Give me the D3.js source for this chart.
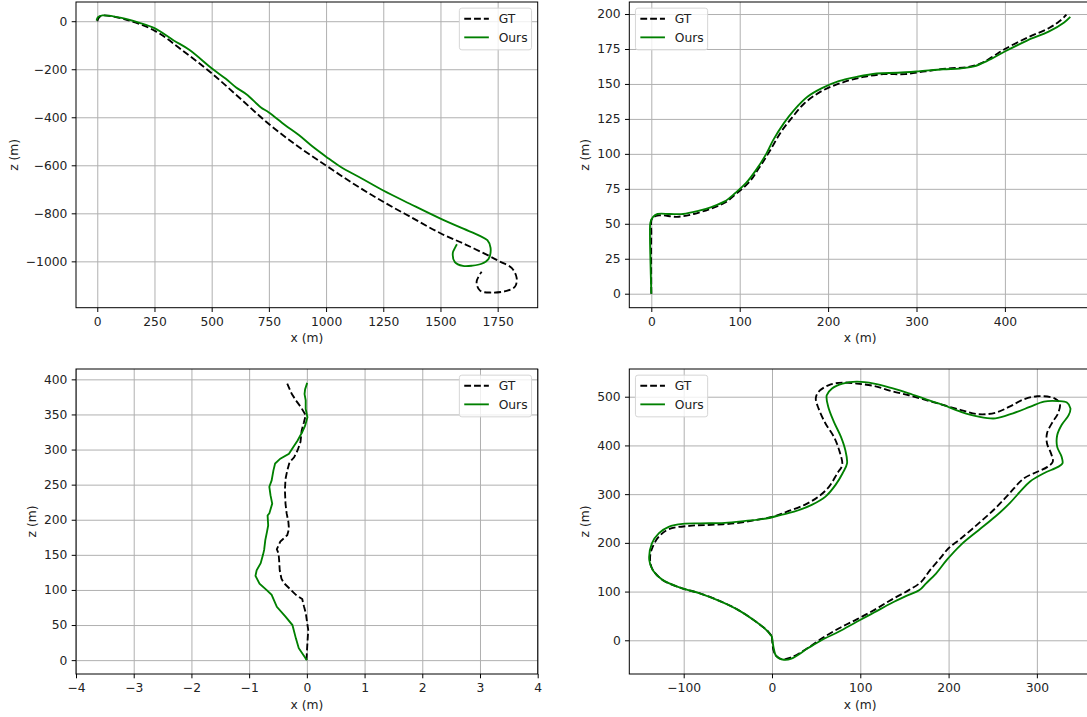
<!DOCTYPE html>
<html>
<head>
<meta charset="utf-8">
<script src="https://cdn.jsdelivr.net/npm/d3@7"></script>
<style>
body { margin: 0; background: #fff; }
text { font-family: "DejaVu Sans", sans-serif; }
</style>
</head>
<body>
<svg id="fig" width="1087" height="717"></svg>
<script>
// trajectories, [x, z] in metres
var p1Gt = [[0,0],[8,16],[23,24],[121,8],[250,-39],[370,-120],[500,-217],[625,-322],[750,-428],[875,-520],[1000,-601],[1125,-680],[1250,-752],[1375,-818],[1500,-883],[1610,-930],[1716,-979],[1760,-1001],[1812,-1028],[1833,-1069],[1826,-1105],[1789,-1123],[1724,-1130],[1673,-1122],[1658,-1085],[1680,-1043]];
var p1Ours = [[-3,3],[3,17],[23,24],[106,14],[182,-6],[250,-29],[334,-80],[402,-119],[500,-196],[562,-240],[607,-276],[653,-305],[714,-358],[750,-380],[820,-432],[881,-474],[941,-522],[1000,-564],[1063,-606],[1154,-654],[1250,-705],[1366,-760],[1500,-822],[1600,-864],[1670,-893],[1705,-912],[1719,-944],[1710,-990],[1680,-1010],[1640,-1018],[1598,-1019],[1563,-1003],[1554,-965],[1564,-943],[1572,-929]];

var p2Gt = [[0,0],[0,43],[1,54],[9,56],[29,55],[48,57],[68,61],[83,65],[97,72],[111,80],[122,90],[134,102],[146,115],[158,125],[173,136],[193,145],[216,151],[240,155],[263,157],[287,157],[310,159],[334,161],[357,162],[372,164.5],[386,169.5],[400,175],[425,183],[450,190],[462,195],[469.6,199.5]];
var p2Ours = [[0,0],[-1,24],[-1.5,43],[-1,51],[2,55],[7,57],[21,57],[36,57],[52,59],[68,62],[83,66],[95,72],[107,79],[118,88],[130,100],[138,110],[150,122],[161,131],[177,141],[193,147],[212,152],[232,155],[255,157.5],[279,158],[302,159],[330,160.5],[349,161],[365,162.5],[380,166.5],[400,173.2],[425,181],[450,187.6],[467,194],[474,198]];

var p3Gt = [[-0.006,0],[0.006,19],[0.024,43],[0.006,53],[-0.018,67],[-0.048,76],[-0.08,87],[-0.19,93],[-0.30,102],[-0.40,110],[-0.44,116],[-0.47,128],[-0.48,142],[-0.49,152],[-0.52,158],[-0.46,169],[-0.34,178],[-0.31,187],[-0.32,197],[-0.35,209],[-0.37,223],[-0.38,242],[-0.37,258],[-0.34,270],[-0.30,282],[-0.22,289],[-0.16,299],[-0.11,311],[-0.09,327],[-0.05,339],[-0.02,349],[-0.10,360],[-0.18,369],[-0.26,379],[-0.34,394]];
var p3Ours = [[0,0],[-0.066,8],[-0.14,17],[-0.19,31],[-0.25,50],[-0.37,62],[-0.52,76],[-0.61,93],[-0.70,100],[-0.82,109],[-0.89,120],[-0.87,128],[-0.80,138],[-0.76,150],[-0.74,157],[-0.72,171],[-0.69,183],[-0.67,192],[-0.68,206],[-0.65,209],[-0.60,223],[-0.63,235],[-0.65,247],[-0.61,256],[-0.58,270],[-0.55,280],[-0.46,287],[-0.31,294],[-0.24,303],[-0.16,313],[-0.08,325],[-0.03,334],[0.01,346],[-0.02,358],[-0.02,370],[-0.04,379],[-0.03,386],[0.006,395]];

var p4Gt = [[0,7.5],[1.6,-20],[4.7,-32],[11.4,-39],[21,-35.6],[37,-20],[56.6,4],[76,24.6],[96,43],[115.6,62],[135,83],[155,103],[169,120],[179,144],[190.4,168],[200,189],[214,209],[234,240],[253,271],[269,301.6],[285,332],[300.5,346],[312,356],[318,366.6],[316,383.7],[311.5,404],[311.5,425],[318,448.7],[324,466],[326,486],[320,496.6],[300.5,501],[285,494.5],[269,479.5],[253,467],[234,464],[214,472.6],[194,483],[174.6,493],[155,503],[135,511.6],[115.6,522],[96,527],[80,529],[64.5,524],[52.7,510],[49.6,496.6],[52.7,476],[60.6,445],[70,418],[76,390.6],[79.5,360],[74,343],[64.5,315],[52.7,295],[37,278],[17,264],[1.6,254],[-18,247],[-42,240],[-69,237],[-93,235],[-117,228],[-128,213],[-135,192],[-138,172],[-136,148],[-124,124],[-104,108],[-81,96],[-57,79],[-38,62],[-18,38],[-4.3,18],[0,7.5]];
var p4Ours = [[0,7.5],[1.6,-13],[4.7,-32],[13.4,-40],[22,-37.6],[41,-16],[56.6,0.7],[76,18],[96,38],[115.6,57],[135,76],[151,90],[167,103],[174.6,117],[186,137.5],[198,165],[214,196],[234,226],[253,254],[269,281],[281,305],[292,325.6],[308,343],[324,356],[329,363],[328,377],[323,397],[323,421],[328,442],[336,462],[338,476],[334,488],[324,491],[308,490],[292,479],[273,466],[253,455.5],[234,459],[214,469],[194,483],[174.6,494.5],[155,507],[135,518],[115.6,527],[96,531],[80,527],[68,517],[62,503],[63.7,479.5],[70,449],[78,418],[83,390.6],[85,363],[80,343],[72,319],[60.6,295],[45,278],[25,264],[9.4,257],[-6.3,250],[-30,245],[-53.5,241],[-81,240],[-101,239],[-117,233],[-128,220],[-136,199],[-139,165],[-135,144],[-124,124],[-104,108],[-81,96],[-57,79],[-38,62],[-18,38],[-6.3,21],[-1.6,11],[0,7.5]];

// tick values
var p1XTicks = [0, 250, 500, 750, 1000, 1250, 1500, 1750];
var p1YTicks = [0, -200, -400, -600, -800, -1000];
var p2XTicks = [0, 100, 200, 300, 400];
var p2YTicks = [0, 25, 50, 75, 100, 125, 150, 175, 200];
var p3XTicks = [-4, -3, -2, -1, 0, 1, 2, 3, 4];
var p3YTicks = [0, 50, 100, 150, 200, 250, 300, 350, 400];
var p4XTicks = [-100, 0, 100, 200, 300];
var p4YTicks = [0, 100, 200, 300, 400, 500];

var seriesNames = ["GT", "Ours"];
var xLabel = "x (m)", yLabel = "z (m)";

var fs = 12.3, tickLen = 4.3, tickPad = 4.3, labelPad = 4.9;
var lw = 1.85, green = "#008000";

var panels = [
  {left: 76, top: 2, w: 461.7, h: 305.7, xDom: [-93, 1925], yDom: [-1193, 80],
   xTicks: p1XTicks, yTicks: p1YTicks, gt: p1Gt, ours: p1Ours, legend: "right", curve: d3.curveCatmullRom},
  {left: 629.3, top: 2, w: 461.7, h: 305.7, xDom: [-24.9, 497.4], yDom: [-10, 208.6],
   xTicks: p2XTicks, yTicks: p2YTicks, gt: p2Gt, ours: p2Ours, legend: "left", curve: d3.curveCatmullRom},
  {left: 76, top: 369, w: 461.7, h: 305, xDom: [-4, 4], yDom: [-19.75, 414.75],
   xTicks: p3XTicks, yTicks: p3YTicks, gt: p3Gt, ours: p3Ours, legend: "right", curve: d3.curveLinear},
  {left: 629.3, top: 369, w: 461.7, h: 305, xDom: [-161.6, 361.3], yDom: [-69.2, 556.9],
   xTicks: p4XTicks, yTicks: p4YTicks, gt: p4Gt, ours: p4Ours, legend: "left", curve: d3.curveCatmullRom}
];

var svg = d3.select("#fig");
svg.append("rect").attr("width", 1087).attr("height", 717).attr("fill", "#fff");

panels.forEach(function(p, i) {
  var x = d3.scaleLinear().domain(p.xDom).range([0, p.w]);
  var y = d3.scaleLinear().domain(p.yDom).range([p.h, 0]);
  var g = svg.append("g").attr("transform", "translate(" + p.left + "," + p.top + ")");

  g.append("clipPath").attr("id", "clip" + i)
    .append("rect").attr("width", p.w).attr("height", p.h);

  // grid
  g.append("g").attr("class", "grid").attr("transform", "translate(0," + p.h + ")")
    .call(d3.axisBottom(x).tickValues(p.xTicks).tickSize(-p.h).tickFormat(""));
  g.append("g").attr("class", "grid")
    .call(d3.axisLeft(y).tickValues(p.yTicks).tickSize(-p.w).tickFormat(""));
  g.selectAll(".grid .domain").remove();
  g.selectAll(".grid line").attr("stroke", "#b0b0b0").attr("stroke-width", 1);

  // trajectories
  var line = d3.line().x(function(d) { return x(d[0]); }).y(function(d) { return y(d[1]); }).curve(p.curve);
  var lines = g.append("g").attr("clip-path", "url(#clip" + i + ")");
  lines.append("path").datum(p.gt).attr("d", line)
    .attr("fill", "none").attr("stroke", "#000").attr("stroke-width", lw)
    .attr("stroke-dasharray", "6.8,3");
  lines.append("path").datum(p.ours).attr("d", line)
    .attr("fill", "none").attr("stroke", green).attr("stroke-width", lw);

  // axes
  var xa = g.append("g").attr("transform", "translate(0," + p.h + ")")
    .call(d3.axisBottom(x).tickValues(p.xTicks).tickSize(tickLen).tickPadding(tickPad + 1).tickFormat(d3.format("d")));
  var ya = g.append("g")
    .call(d3.axisLeft(y).tickValues(p.yTicks).tickSize(tickLen).tickPadding(tickPad).tickFormat(d3.format("d")));
  [xa, ya].forEach(function(a) {
    a.select(".domain").remove();
    a.attr("font-size", fs).attr("font-family", "DejaVu Sans, sans-serif");
    a.selectAll("line").attr("stroke", "#000");
    a.selectAll("text").attr("fill", "#222");
  });

  g.append("rect").attr("width", p.w).attr("height", p.h)
    .attr("fill", "none").attr("stroke", "#000").attr("stroke-width", 1);

  // axis labels
  g.append("text").attr("x", p.w / 2).attr("y", p.h + 34.5)
    .attr("text-anchor", "middle").attr("font-size", fs).attr("fill", "#222").text(xLabel);
  var maxW = d3.max(ya.selectAll("text").nodes(), function(n) { return n.getBBox().width; });
  var lx = -(tickLen + tickPad + maxW + labelPad) - 0.24 * fs;
  g.append("text").attr("transform", "translate(" + lx + "," + (p.h / 2) + ") rotate(-90)")
    .attr("text-anchor", "middle").attr("font-size", fs).attr("fill", "#222").text(yLabel);

  // legend
  var lgW = 72.2, lgH = 41.7, pad = 6.15;
  var lgX = p.legend === "right" ? p.w - pad - lgW : pad;
  var lg = g.append("g").attr("transform", "translate(" + lgX + "," + pad + ")");
  lg.append("rect").attr("width", lgW).attr("height", lgH).attr("rx", 2.5)
    .attr("fill", "#fff").attr("fill-opacity", 0.8)
    .attr("stroke", "#d6d6d6").attr("stroke-width", 1);
  seriesNames.forEach(function(name, k) {
    var cy = 10.6 + k * 18.6;
    lg.append("line").attr("x1", 4.9).attr("x2", 4.9 + 24.6).attr("y1", cy).attr("y2", cy)
      .attr("stroke", k === 0 ? "#000" : green).attr("stroke-width", lw)
      .attr("stroke-dasharray", k === 0 ? "6.8,3" : null);
    lg.append("text").attr("x", 4.9 + 24.6 + 9.8).attr("y", cy).attr("dy", "0.36em")
      .attr("font-size", fs).attr("fill", "#222").text(name);
  });
});
</script>
</body>
</html>
